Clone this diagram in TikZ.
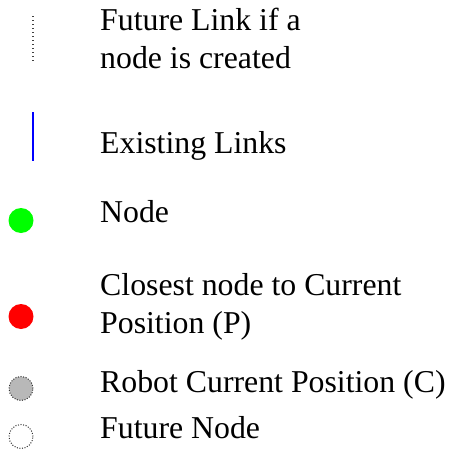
\documentclass[tikz,border=0pt]{standalone}
\usepackage{fontspec}
\setmainfont{Liberation Serif}
\begin{document}
\begin{tikzpicture}[x=1pt,y=-1pt,
  lbl/.style={anchor=base west,inner sep=0pt,font=\fontsize{31.8}{38}\selectfont},
  dotline/.style={draw=black!75,line width=1.2pt,dash pattern=on 1.2pt off 2.8pt},
  dotcirc/.style={circle,draw=black!80,line width=1pt,dash pattern=on 1pt off 1.6pt,minimum size=24pt,inner sep=0pt},
  solidcirc/.style={circle,minimum size=25pt,inner sep=0pt}]
\useasboundingbox (0,0) rectangle (449,450);
\coordinate (f1) at (33,16);
\coordinate (f2) at (33,62);
\draw[dotline] (f1) -- (f2);
\coordinate (e1) at (33,112);
\coordinate (e2) at (33,161);
\draw[blue,line width=1.4pt] (e1) -- (e2);
\node[solidcirc,fill=green] (g) at (21,220.5) {};
\node[solidcirc,fill=red] (r) at (21,316.5) {};
\node[dotcirc,fill=black!28] (c) at (21,388.5) {};
\node[dotcirc,fill=white] (w) at (21,436.5) {};
\node[lbl] (t1) at (100,30) {Future Link if a};
\node[lbl] (t2) at (100,68) {node is created};
\node[lbl] (t3) at (100,153) {Existing Links};
\node[lbl] (t4) at (100,222) {Node};
\node[lbl] (t5) at (100,295) {Closest node to Current};
\node[lbl] (t6) at (100,333) {Position (P)};
\node[lbl] (t7) at (100,392) {Robot Current Position (C)};
\node[lbl] (t8) at (100,438) {Future Node};
\end{tikzpicture}
\end{document}
